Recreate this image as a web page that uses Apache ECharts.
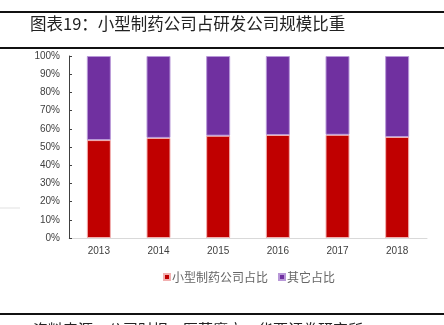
<!DOCTYPE html>
<html>
<head>
<meta charset="utf-8">
<script src="https://cdn.jsdelivr.net/npm/echarts@6/dist/echarts.min.js"></script>
<style>html,body{margin:0;padding:0;background:#fff;}#c{width:444px;height:325px;}</style>
</head>
<body>
<div id="c"></div>
<script>
var categories = ['2013', '2014', '2015', '2016', '2017', '2018'];
var smallPharma = [53.8, 55.0, 56.2, 56.6, 56.7, 55.5];
var others = [46.2, 45.0, 43.8, 43.4, 43.3, 44.5];
var seriesNames = ['小型制药公司占比', '其它占比'];

var chart = echarts.init(document.getElementById('c'), null, {renderer: 'canvas'});
var font = '"Noto Sans CJK SC", "Noto Sans", sans-serif';
chart.setOption({
  animation: false,
  backgroundColor: '#fff',
  textStyle: {fontFamily: font},
  grid: {left: 69, right: 17, top: 56, bottom: 87},
  legend: {
    data: seriesNames,
    left: 158, top: 266,
    itemWidth: 6, itemHeight: 6, itemGap: 10,
    icon: 'rect',
    textStyle: {fontSize: 12, color: '#666', fontFamily: font, padding: [0, 0, 0, -3]}
  },
  xAxis: {
    type: 'category',
    data: categories,
    axisLine: {lineStyle: {color: '#D9D9D9', width: 1}},
    axisTick: {show: false},
    axisLabel: {color: '#404040', fontSize: 10, margin: 8, fontFamily: 'Liberation Sans, Arial, sans-serif'}
  },
  yAxis: {
    type: 'value',
    min: 0, max: 100, interval: 10,
    axisLine: {show: true, lineStyle: {color: '#404040', width: 1}},
    axisTick: {show: true, inside: true, length: 3, lineStyle: {color: '#404040'}},
    splitLine: {show: false},
    axisLabel: {formatter: '{value}%', color: '#404040', fontSize: 10, margin: 9, fontFamily: 'Liberation Sans, Arial, sans-serif'}
  },
  series: [
    {
      name: seriesNames[0], type: 'bar', stack: 'a', data: smallPharma, barWidth: 24,
      itemStyle: {color: '#C00000', borderColor: '#F2B0B0', borderWidth: 1}
    },
    {
      name: seriesNames[1], type: 'bar', stack: 'a', data: others, barWidth: 24,
      itemStyle: {color: '#7030A0', borderColor: '#B898D8', borderWidth: 1}
    }
  ],
  graphic: [
    {type: 'rect', shape: {x: 0, y: 11, width: 444, height: 2}, style: {fill: '#111'}},
    {type: 'text', left: 30, top: 15, style: {text: '图表19：小型制药公司占研发公司规模比重', font: '16.5px ' + font, fill: '#222'}},
    {type: 'rect', shape: {x: 0, y: 47, width: 444, height: 2}, style: {fill: '#111'}},
    {type: 'rect', shape: {x: 0, y: 207.5, width: 20, height: 1}, style: {fill: '#E0E0E0'}},
    {type: 'rect', shape: {x: 0, y: 313, width: 444, height: 2}, style: {fill: '#111'}},
    {type: 'text', left: 33, top: 322, style: {text: '资料来源：公司财报，医药魔方，华西证券研究所', font: '15px ' + font, fill: '#222'}}
  ]
});
</script>
</body>
</html>
